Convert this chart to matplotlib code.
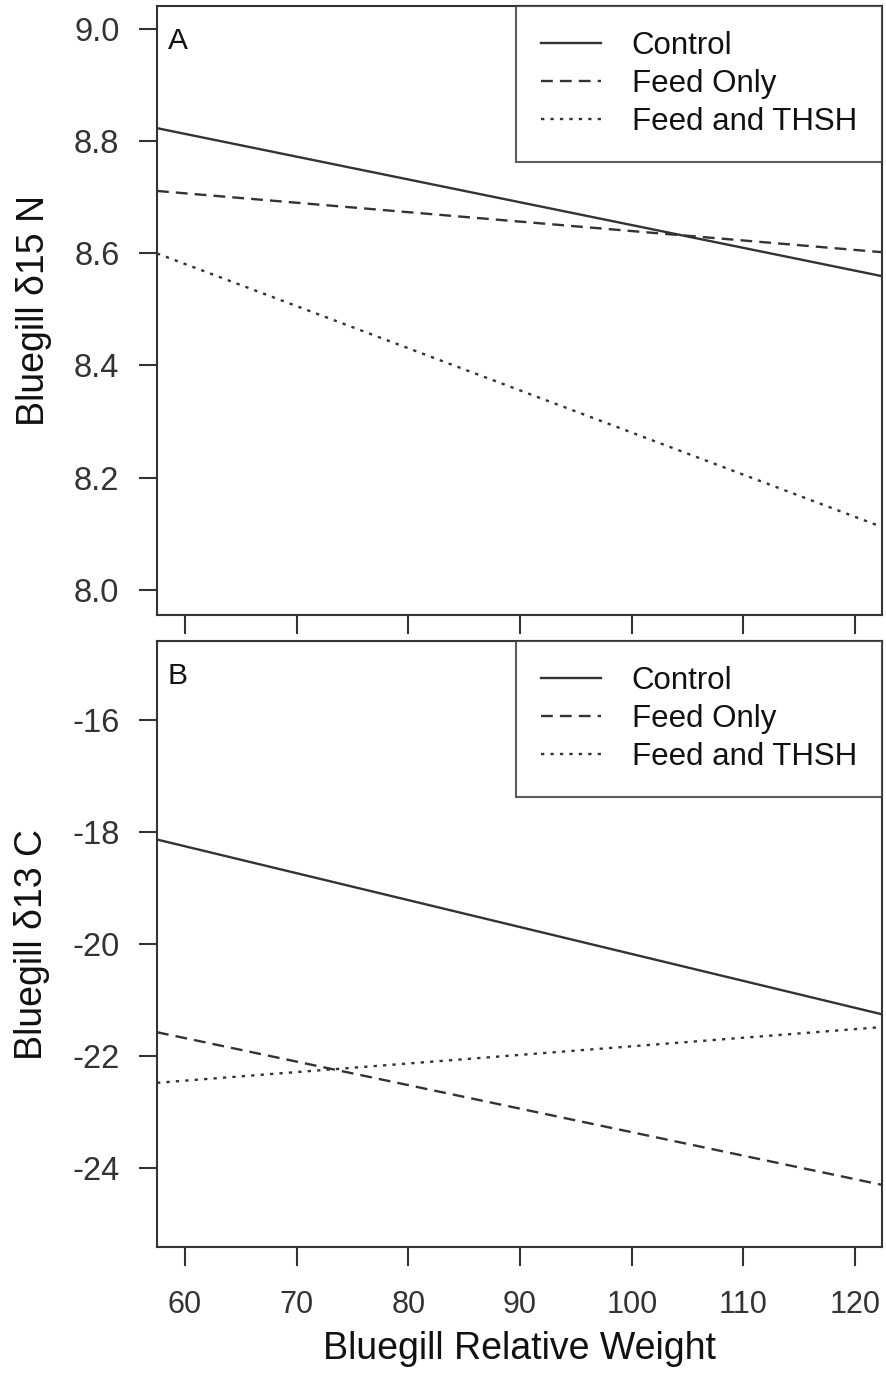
import matplotlib
matplotlib.use("Agg")
import matplotlib.pyplot as plt
import numpy as np

plt.rcParams['font.family'] = ['Liberation Sans', 'DejaVu Sans']

weights = [60, 120]
groups = ['Control', 'Feed Only', 'Feed and THSH']
n15 = {'Control': [8.813, 8.569],
       'Feed Only': [8.707, 8.606],
       'Feed and THSH': [8.581, 8.130]}
c13 = {'Control': [-18.255, -21.14],
       'Feed Only': [-21.68, -24.20],
       'Feed and THSH': [-22.44, -21.52]}

xticks = [60, 70, 80, 90, 100, 110, 120]
n15_ticks = [8.0, 8.2, 8.4, 8.6, 8.8, 9.0]
c13_ticks = [-16, -18, -20, -22, -24]

ink = '#333333'
styles = {'Control': '-',
          'Feed Only': (0, (5, 3)),
          'Feed and THSH': (0, (1.4, 2.6))}

fig = plt.figure(figsize=(8.87, 13.81), dpi=100)
ax1 = fig.add_axes([157/887, 1-615/1381, 725/887, 609/1381])
ax2 = fig.add_axes([157/887, 1-1247/1381, 725/887, 606/1381])


def panel(ax, data, yticks, ylim, ylabel, tag, fmt):
    for g in groups:
        ax.axline((weights[0], data[g][0]), (weights[1], data[g][1]),
                  color=ink, lw=1.7, linestyle=styles[g], label=g)
    ax.set_xlim(57.5, 122.4)
    ax.set_ylim(*ylim)
    ax.set_xticks(xticks)
    ax.set_yticks(yticks)
    ax.set_yticklabels([fmt.format(v) for v in yticks])
    for s in ax.spines.values():
        s.set_linewidth(1.5)
        s.set_color(ink)
    ax.tick_params(axis='both', direction='out', width=1.5, color=ink,
                   labelcolor=ink)
    ax.tick_params(axis='y', length=13, pad=14, labelsize=23.5)
    ax.tick_params(axis='x', length=14, pad=17, labelsize=22)
    ax.set_ylabel(ylabel, fontsize=27, color='#111111', labelpad=16)
    ax.text(0.015, 0.966, tag, transform=ax.transAxes, ha='left', va='top',
            fontsize=21.5, color='#111111')
    leg = ax.legend(loc='upper right', fontsize=22.5, frameon=True,
                    fancybox=False, borderaxespad=0, borderpad=0.8,
                    handlelength=1.9, handletextpad=1.0, labelspacing=0.25)
    leg.get_frame().set_edgecolor(ink)
    leg.get_frame().set_linewidth(1.5)
    for t in leg.get_texts():
        t.set_color('#111111')


panel(ax1, n15, n15_ticks, (7.955, 9.041), 'Bluegill δ15 N', 'A', '{:.1f}')
panel(ax2, c13, c13_ticks, (-25.41, -14.59), 'Bluegill δ13 C', 'B', '{:.0f}')
ax1.tick_params(axis='x', labelbottom=False)
ax2.set_xlabel('Bluegill Relative Weight', fontsize=27, color='#111111',
               labelpad=8)
fig.align_ylabels([ax1, ax2])

fig.savefig('out.png', dpi=100)
